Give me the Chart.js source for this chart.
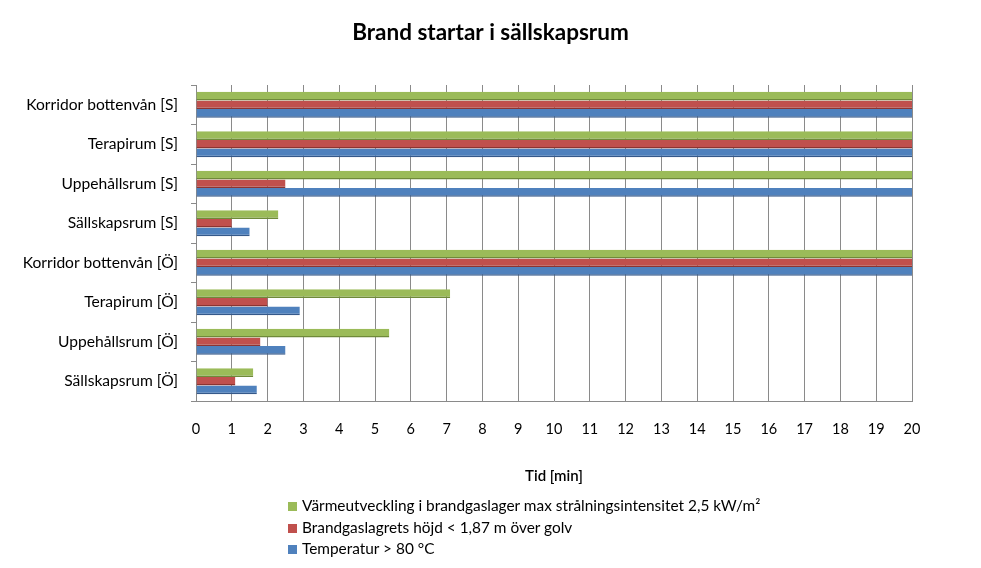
<!DOCTYPE html>
<html>
<head>
<meta charset="utf-8">
<script src="https://cdn.jsdelivr.net/npm/chart.js@4/dist/chart.umd.min.js"></script>
<style>
  body { margin: 0; background: #fff; }
  #wrap { position: relative; width: 981px; height: 568px; }
  #legend { position: absolute; left: 288px; top: 495px; font-family: Lato, sans-serif; font-size: 15.4px; color: #000; }
  #legend div { height: 21.5px; line-height: 21.5px; white-space: nowrap; }
  #legend span.box { display: inline-block; width: 9px; height: 9px; margin-right: 5px; vertical-align: 0px; }
</style>
</head>
<body>
<div id="wrap">
  <canvas id="chart" width="981" height="568"></canvas>
  <div id="legend"></div>
</div>
<script>
// Brand startar i sällskapsrum — horisontellt stapeldiagram

const rooms = [
  'Korridor bottenvån [S]',
  'Terapirum [S]',
  'Uppehållsrum [S]',
  'Sällskapsrum [S]',
  'Korridor bottenvån [Ö]',
  'Terapirum [Ö]',
  'Uppehållsrum [Ö]',
  'Sällskapsrum [Ö]',
];

const seriesNames = [
  'Värmeutveckling i brandgaslager max strålningsintensitet 2,5 kW/m²',
  'Brandgaslagrets höjd < 1,87 m över golv',
  'Temperatur > 80 °C',
];

// tid i minuter (20 = ej uppnått inom simuleringen)
const heatValues   = [20, 20, 20, 2.3, 20, 7.1, 5.4, 1.6];
const layerValues  = [20, 20, 2.5, 1.0, 20, 2.0, 1.8, 1.1];
const tempValues   = [20, 20, 20, 1.5, 20, 2.9, 2.5, 1.7];

const colors = ['#9BBB59', '#C0504D', '#4F81BD'];
const edges  = ['#6F8A3A', '#8C3431', '#35598A'];

const datasets = [heatValues, layerValues, tempValues].map((vals, i) => ({
  label: seriesNames[i],
  data: vals,
  backgroundColor: colors[i],
  borderColor: edges[i],
  borderWidth: { top: 0, right: 0, bottom: 1.5, left: 0 },
  borderSkipped: false,
  categoryPercentage: 0.66,
  barPercentage: 1.0,
}));

const ctx = document.getElementById('chart').getContext('2d');

new Chart(ctx, {
  type: 'bar',
  data: { labels: rooms, datasets },
  options: {
    indexAxis: 'y',
    responsive: false,
    animation: false,
    layout: { padding: { left: 0, right: 0, top: 0, bottom: 77 } },
    plugins: {
      legend: { display: false },
      tooltip: { enabled: false },
      title: {
        display: true,
        text: 'Brand startar i sällskapsrum',
        color: '#000',
        font: { family: 'Lato', size: 22.5, weight: 'bold' },
        padding: { top: 19, bottom: 39 },
      },
    },
    scales: {
      x: {
        min: 0,
        max: 20,
        ticks: {
          stepSize: 1,
          color: '#000',
          padding: 20,
          font: { family: 'Lato', size: 14.5 },
        },
        grid: { color: '#8a8a8a', lineWidth: 1, drawTicks: false },
        border: { display: true, color: '#8a8a8a' },
        title: {
          display: true,
          text: 'Tid [min]',
          color: '#000',
          font: { family: 'Lato', size: 15, weight: '600' },
          padding: { top: 4, bottom: 6 },
        },
        afterFit: s => { s.height = 90; },
      },
      y: {
        ticks: {
          color: '#000',
          padding: 13,
          font: { family: 'Lato', size: 15.6 },
        },
        grid: { drawOnChartArea: false, drawTicks: true, tickLength: 5, color: '#8a8a8a', offset: true },
        border: { display: true, color: '#8a8a8a' },
        afterFit: s => { s.width = 196; },
      },
      // empty right gutter so the title centres on the whole picture
      gutter: {
        type: 'linear',
        axis: 'y',
        position: 'right',
        ticks: { display: false },
        grid: { display: false },
        border: { display: false },
        afterFit: s => { s.width = 69; },
      },
    },
  },
});

// legend, one row per series
const legend = document.getElementById('legend');
seriesNames.forEach((name, i) => {
  const row = document.createElement('div');
  const box = document.createElement('span');
  box.className = 'box';
  box.style.background = colors[i];
  row.appendChild(box);
  row.appendChild(document.createTextNode(name));
  legend.appendChild(row);
});
</script>
</body>
</html>
